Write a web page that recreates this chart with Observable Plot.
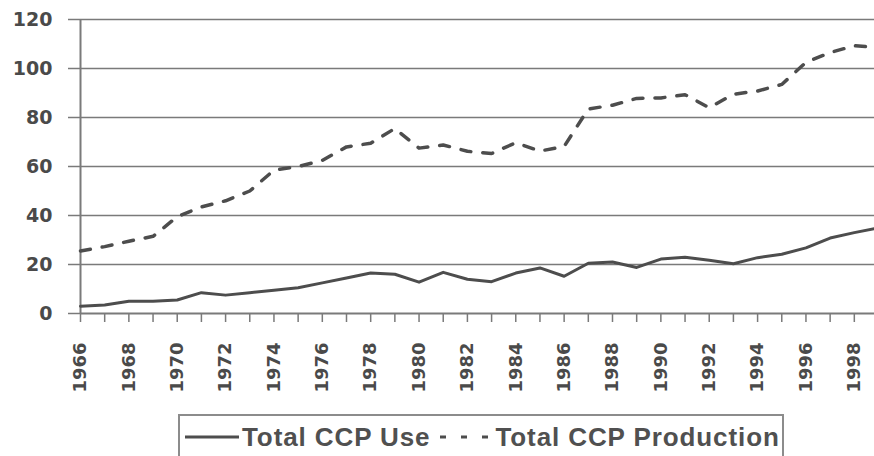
<!DOCTYPE html>
<html>
<head>
<meta charset="utf-8">
<script src="https://cdn.jsdelivr.net/npm/d3@7"></script>
<script src="https://cdn.jsdelivr.net/npm/@observablehq/plot@0.6"></script>
<style>
  html, body { margin: 0; padding: 0; background: #fff; overflow: hidden; width: 874px; height: 456px; }
  #wrap { position: relative; width: 874px; height: 456px; }
  #chart svg { display: block; }
  #chart svg [aria-label="y-axis tick label"] text { font-family: "DejaVu Sans", sans-serif; font-weight: bold; font-size: 19px; fill: #4a4a4a; }
  #chart svg [aria-label="x-axis tick label"] text { font-family: "DejaVu Sans", sans-serif; font-weight: bold; font-size: 18px; fill: #4a4a4a; }
  .legend { position: absolute; left: 178px; top: 414px; width: 606px; height: 46px; box-sizing: border-box;
            border: 2px solid #8c8c8c; display: flex; align-items: center; padding-left: 5px;
            font-family: "Liberation Sans", Arial, sans-serif; font-weight: bold; font-size: 26px; letter-spacing: 0.9px; color: #505050; white-space: nowrap; }
  .legend svg { display: block; }
</style>
</head>
<body>
<div id="wrap">
  <div id="chart"></div>
  <div class="legend" id="legend"></div>
</div>
<script>
// Years (categories)
const years = [1966,1967,1968,1969,1970,1971,1972,1973,1974,1975,1976,1977,1978,1979,1980,1981,1982,
               1983,1984,1985,1986,1987,1988,1989,1990,1991,1992,1993,1994,1995,1996,1997,1998,1999];
// Total CCP Use (solid)
const useValues = [3,3.5,5,5,5.5,8.5,7.5,8.5,9.5,10.5,12.5,14.5,16.5,16,12.8,16.8,14,13,16.5,18.6,15.2,
                   20.5,21,18.8,22.2,23,21.7,20.3,22.8,24.2,26.8,30.8,33,35];
// Total CCP Production (dashed)
const productionValues = [25.5,27.3,29.5,31.5,39.5,43.5,46,50,58.5,60,62.5,68,69.5,75.5,67.5,68.8,66.2,
                          65.3,69.7,66.3,68.2,83.5,85,87.8,88,89.3,84,89.5,90.8,93.5,102.5,106.5,109.3,108.5];
const yTicks = [0,20,40,60,80,100,120];
const xLabelYears = [1966,1968,1970,1972,1974,1976,1978,1980,1982,1984,1986,1988,1990,1992,1994,1996,1998];
const seriesNames = ["Total CCP Use", "Total CCP Production"];

const useData = years.map((y, i) => ({year: y, value: useValues[i]}));
const prodData = years.map((y, i) => ({year: y, value: productionValues[i]}));

const gridColor = "#7a7a7a";
const lineColor = "#4d4d4d";

const chart = Plot.plot({
  width: 874,
  height: 412,
  marginTop: 19,
  marginBottom: 99,
  marginLeft: 80,
  marginRight: 0,
  style: {background: "#fff", overflow: "hidden"},
  x: {domain: [1966, 1999], range: [80, 878], label: null},
  y: {domain: [0, 120], label: null},
  marks: [
    Plot.ruleY(yTicks.filter(d => d > 0), {stroke: gridColor, strokeWidth: 1.5}),
    Plot.ruleY([0], {stroke: gridColor, strokeWidth: 2}),
    Plot.ruleX([1966], {y1: 0, y2: 120, stroke: gridColor, strokeWidth: 2}),
    Plot.axisY({ticks: yTicks, tickSize: 12, tickPadding: 16, tickFormat: d => String(d), stroke: gridColor, strokeWidth: 1.5, label: null}),
    Plot.axisX({ticks: years, tickSize: 9, tickFormat: () => "", stroke: gridColor, strokeWidth: 1.5, label: null}),
    Plot.axisX({ticks: xLabelYears, tickSize: 0, tickPadding: 29, tickRotate: -90, tickFormat: d => String(d), label: null}),
    Plot.line(useData, {x: "year", y: "value", stroke: lineColor, strokeWidth: 3, curve: "linear"}),
    Plot.line(prodData, {x: "year", y: "value", stroke: lineColor, strokeWidth: 3.5, strokeDasharray: "10,12", curve: "linear"})
  ]
});
document.getElementById("chart").appendChild(chart);

// Legend
const legend = document.getElementById("legend");
function swatch(dashed) {
  const ns = "http://www.w3.org/2000/svg";
  const s = document.createElementNS(ns, "svg");
  s.setAttribute("width", dashed ? 62 : 54);
  s.setAttribute("height", 20);
  const l = document.createElementNS(ns, "line");
  l.setAttribute("x1", dashed ? 10 : 0);
  l.setAttribute("x2", dashed ? 60 : 54);
  l.setAttribute("y1", 10); l.setAttribute("y2", 10);
  l.setAttribute("stroke", lineColor);
  l.setAttribute("stroke-width", 3);
  if (dashed) l.setAttribute("stroke-dasharray", "6,15");
  s.appendChild(l);
  return s;
}
legend.appendChild(swatch(false));
const t1 = document.createElement("span"); t1.textContent = seriesNames[0]; t1.style.marginLeft = "3px";
legend.appendChild(t1);
legend.appendChild(swatch(true));
const t2 = document.createElement("span"); t2.textContent = seriesNames[1]; t2.style.marginLeft = "3px";
legend.appendChild(t2);
</script>
</body>
</html>
